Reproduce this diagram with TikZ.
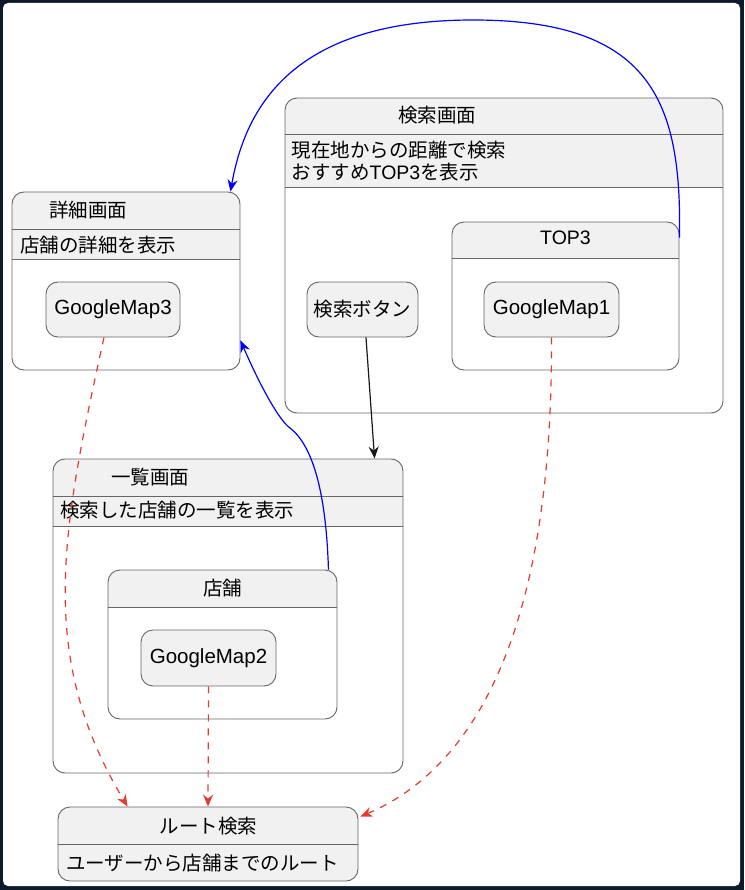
\documentclass[tikz,border=0pt]{standalone}
\usepackage{fontspec}
\setmainfont{Noto Sans CJK JP}
\newfontfamily\lat{Liberation Sans}
\usetikzlibrary{arrows.meta}
\definecolor{framec}{HTML}{0C1A2B}
\definecolor{hdr}{HTML}{F1F1F1}
\definecolor{bord}{HTML}{666666}
\definecolor{redc}{HTML}{E63B2E}
\definecolor{bluec}{HTML}{0000FF}
\definecolor{blackc}{HTML}{181818}
\newcommand{\myhdr}[4]{\fill[hdr] (#1,#4) {[rounded corners=12pt] -- (#1,#2) -- (#3,#2)} -- (#3,#4) -- cycle;}
\begin{document}
\begin{tikzpicture}[x=1pt,y=-1pt,
  lbl/.style={inner sep=0pt, font=\fontsize{19.5pt}{22pt}\selectfont, text=black},
  outline/.style={draw=bord, line width=0.9pt, rounded corners=12pt, inner sep=0pt},
  leaf/.style={outline, fill=hdr, text=black, font=\fontsize{19.5pt}{22pt}\selectfont},
  maplbl/.style={font=\lat\fontsize{20.5pt}{22pt}\selectfont},
  sepline/.style={draw=bord, line width=0.9pt},
  tip/.style={-{Stealth[length=12pt,width=10pt,inset=4pt]}},
  blueline/.style={draw=bluec, line width=1.2pt, tip},
  blackline/.style={draw=blackc, line width=1.2pt, tip},
  redline/.style={draw=redc, line width=1.2pt, dash pattern=on 7pt off 7pt, tip}]
\useasboundingbox (0,0) rectangle (744,890);
\fill[framec] (0,0) rectangle (744,890);
\fill[white, rounded corners=5pt] (3,3) rectangle (740,886);

% ---- 検索画面
\fill[white, rounded corners=12pt] (285,98) rectangle (723,413);
\myhdr{285}{98}{723}{187}
\draw[sepline] (285,134.5) -- (723,134.5);
\draw[sepline] (285,187) -- (723,187);
\node[outline, minimum width=438pt, minimum height=315pt] (S) at (504,255.5) {};
\node[lbl] (St) at (437,115) {検索画面};
\node[lbl, anchor=west, align=left] (Sd) at (291.5,161) {現在地からの距離で検索\\おすすめ{\lat TOP3}を表示};

% ---- TOP3
\fill[white, rounded corners=12pt] (452,222) rectangle (679,370);
\myhdr{452}{222}{679}{258}
\draw[sepline] (452,258) -- (679,258);
\node[outline, minimum width=227pt, minimum height=148pt] (T) at (565.5,296) {};
\node[lbl] (Tt) at (565.5,238) {\lat TOP3};
\node[leaf, maplbl, minimum width=135pt, minimum height=55pt] (G1) at (551.5,309.5) {GoogleMap1};
\node[leaf, minimum width=111pt, minimum height=55pt] (B) at (362.5,309.5) {検索ボタン};

% ---- 詳細画面
\fill[white, rounded corners=12pt] (12,192) rectangle (240,370);
\myhdr{12}{192}{240}{259}
\draw[sepline] (12,229) -- (240,229);
\draw[sepline] (12,259) -- (240,259);
\node[outline, minimum width=228pt, minimum height=178pt] (D) at (126,281) {};
\node[lbl] (Dt) at (88,210.5) {詳細画面};
\node[lbl, anchor=west] (Dd) at (20,245) {店舗の詳細を表示};
\node[leaf, maplbl, minimum width=134pt, minimum height=55pt] (G3) at (113,309.5) {GoogleMap3};

% ---- 一覧画面
\fill[white, rounded corners=12pt] (53,459) rectangle (403,773);
\myhdr{53}{459}{403}{526}
\draw[sepline] (53,496) -- (403,496);
\draw[sepline] (53,526) -- (403,526);
\node[outline, minimum width=350pt, minimum height=314pt] (L) at (228,616) {};
\node[lbl] (Lt) at (150,477) {一覧画面};
\node[lbl, anchor=west] (Ld) at (60,510.5) {検索した店舗の一覧を表示};

% ---- 店舗
\fill[white, rounded corners=12pt] (108,570) rectangle (337,719);
\myhdr{108}{570}{337}{607}
\draw[sepline] (108,607) -- (337,607);
\node[outline, minimum width=229pt, minimum height=149pt] (M) at (222.5,644.5) {};
\node[lbl] (Mt) at (222.5,588) {店舗};
\node[leaf, maplbl, minimum width=135pt, minimum height=56pt] (G2) at (208.5,658) {GoogleMap2};

% ---- ルート検索
\node[outline, fill=hdr, minimum width=300pt, minimum height=74pt] (R) at (208,844) {};
\draw[sepline] (58,844.5) -- (358,844.5);
\node[lbl] (Rt) at (208.4,826.5) {ルート検索};
\node[lbl, anchor=west] (Rd) at (66,863) {ユーザーから店舗までのルート};

% ---- connectors
\draw[blackline] ([xshift=3.5pt]B.south) -- ([xshift=322pt]L.north west);
\draw[blueline] ([yshift=-16pt]T.north east) .. controls (682,100) and (650,20) .. (473,20)
      .. controls (290,20) and (245,110) .. ([xshift=-10pt]D.north east);
\draw[blueline] ([xshift=-9pt]M.north east) .. controls (326,490) and (312,445) .. (290,428)
      .. controls (280,421) and (262,390) .. ([yshift=30pt]D.south east);
\draw[redline] ([xshift=-9pt]G3.south) .. controls (60,537) and (38,657) .. ([xshift=70pt]R.north west);
\draw[redline] (G2.south) -- (R.north);
\draw[redline] (G1.south) .. controls (553,640) and (470,770) .. ([yshift=-10pt,xshift=2pt]R.north east);
\end{tikzpicture}
\end{document}
